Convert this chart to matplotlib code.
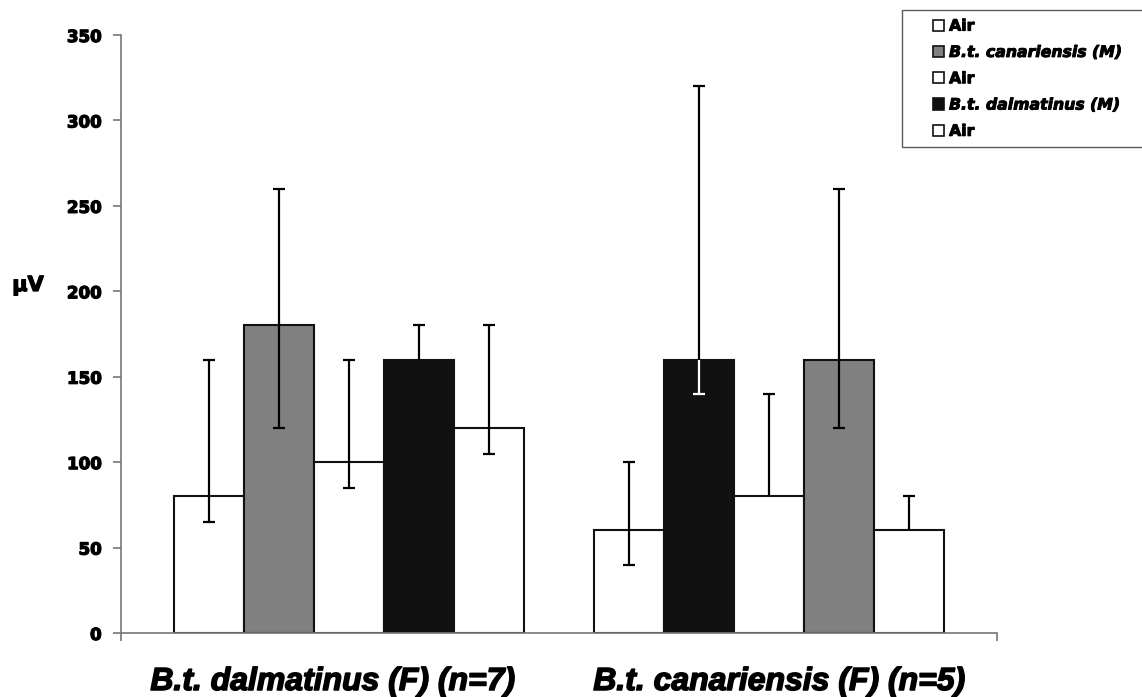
import numpy as np
import matplotlib
matplotlib.use("Agg")
import matplotlib.pyplot as plt
import matplotlib.patheffects as pe
import matplotlib.transforms as mtransforms
from matplotlib.patches import Patch, Rectangle
from matplotlib.legend_handler import HandlerPatch

plt.rcParams['font.family'] = ['DejaVu Sans']
plt.rcParams['font.weight'] = 'bold'

# Female groups tested (x categories)
groups = ["B.t. dalmatinus (F) (n=7)", "B.t. canariensis (F) (n=5)"]

# Stimulus order within each group
stimuli_g1 = ["Air", "B.t. canariensis (M)", "Air", "B.t. dalmatinus (M)", "Air"]
stimuli_g2 = ["Air", "B.t. dalmatinus (M)", "Air", "B.t. canariensis (M)", "Air"]

# Mean responses (µV)
means_g1 = [80, 180, 100, 160, 120]
means_g2 = [60, 160, 80, 160, 60]

# Error bar ends (µV)
low_g1 = [65, 120, 85, 160, 105]
high_g1 = [160, 260, 160, 180, 180]
low_g2 = [40, 140, 80, 120, 60]
high_g2 = [100, 320, 140, 260, 80]

yticks = [0, 50, 100, 150, 200, 250, 300, 350]

legend_labels = ["Air", "B.t. canariensis (M)", "Air", "B.t. dalmatinus (M)", "Air"]

fill = {"Air": "white", "B.t. canariensis (M)": "#808080", "B.t. dalmatinus (M)": "#111111"}

heavy = [pe.withStroke(linewidth=0.9, foreground="black")]

fig = plt.figure(figsize=(11.42, 6.97), dpi=100)
ax = fig.add_axes([121 / 1142, 1 - 633 / 697, (997 - 121) / 1142, (633 - 35) / 697])

w = 1 / 6
offsets = (np.arange(5) - 2) * w
axis_col = "#777777"
eb_kw = dict(fmt="none", elinewidth=1.6, capsize=4, capthick=1.6, zorder=3)

for gi, (stim, means, lo, hi) in enumerate([
        (stimuli_g1, means_g1, low_g1, high_g1),
        (stimuli_g2, means_g2, low_g2, high_g2)]):
    xs = gi + offsets
    cols = [fill[s] for s in stim]
    ax.bar(xs, means, width=w, color=cols, edgecolor="#111111", linewidth=1.5, zorder=2)
    for x, m, l, h, c in zip(xs, means, lo, hi, cols):
        # the part of a whisker inside a dark bar is drawn light
        low_col = "white" if c == "#111111" else "black"
        if h > m:
            eb = ax.errorbar([x], [m], yerr=[[0], [h - m]], ecolor="black", **eb_kw)
            eb.lines[1][0].set_visible(False)
        if l < m:
            eb = ax.errorbar([x], [m], yerr=[[m - l], [0]], ecolor=low_col, **eb_kw)
            eb.lines[1][1].set_visible(False)

xmin, xmax = -2.5 * w - 0.75 * w, 1 + 2.5 * w + 0.75 * w
ax.set_xlim(xmin, xmax)
ax.set_ylim(0, 350)

# category names under each group
ax.set_xticks([0, 1])
ax.set_xticklabels([])
ax.tick_params(axis="x", which="major", length=0)
label_shift_px = [-16, 10]
for gi, (name, dx) in enumerate(zip(groups, label_shift_px)):
    tr = mtransforms.blended_transform_factory(ax.transData, ax.transAxes) + \
        mtransforms.ScaledTranslation(dx / 100, 0, fig.dpi_scale_trans)
    ax.text(gi, -57 / 598, name, transform=tr, ha="center", va="baseline",
            fontsize=23, fontweight="bold", style="italic",
            family=["Liberation Sans", "DejaVu Sans"],
            path_effects=[pe.withStroke(linewidth=1.1, foreground="black")])

ax.set_xticks([xmin, xmax], minor=True)
ax.tick_params(axis="x", which="minor", length=6, direction="out", color=axis_col, width=1.2)

ax.set_yticks(yticks)
ax.set_yticklabels([str(t) for t in yticks], fontsize=12, fontweight="bold")
for t in ax.get_yticklabels():
    t.set_path_effects(heavy)
ax.tick_params(axis="y", length=6, direction="out", color=axis_col, width=1.2, pad=8)

for s in ["top", "right"]:
    ax.spines[s].set_visible(False)
for s in ["left", "bottom"]:
    ax.spines[s].set_color(axis_col)
    ax.spines[s].set_linewidth(1.2)

fig.text(28 / 1142, 1 - 285 / 697, "µV", fontsize=15, fontweight="bold",
         ha="center", va="center", path_effects=heavy)


def square_patch(legend, orig_handle, xdescent, ydescent, width, height, fontsize):
    size = 0.72 * fontsize
    return Rectangle((-xdescent + width - size, -ydescent + (height - size) / 2), size, size)


handles = [Patch(facecolor=fill[l], edgecolor="#111111", linewidth=1.2) for l in legend_labels]
leg = fig.legend(handles, legend_labels, loc="upper left",
                 bbox_to_anchor=(902 / 1142, 1 - 144 / 697, 0.25, 134 / 697),
                 mode="expand", fontsize=11.3, frameon=True, fancybox=False,
                 edgecolor="#333333", borderaxespad=0, handlelength=2.15, handleheight=0.9,
                 handletextpad=0.3, labelspacing=0.72, borderpad=0.55,
                 handler_map={Patch: HandlerPatch(patch_func=square_patch)})
leg.get_frame().set_linewidth(1.0)
for t in leg.get_texts():
    t.set_fontweight("bold")
    t.set_path_effects([pe.withStroke(linewidth=0.7, foreground="black")])
    if t.get_text() != "Air":
        t.set_style("italic")

fig.savefig("out.png", dpi=100)
